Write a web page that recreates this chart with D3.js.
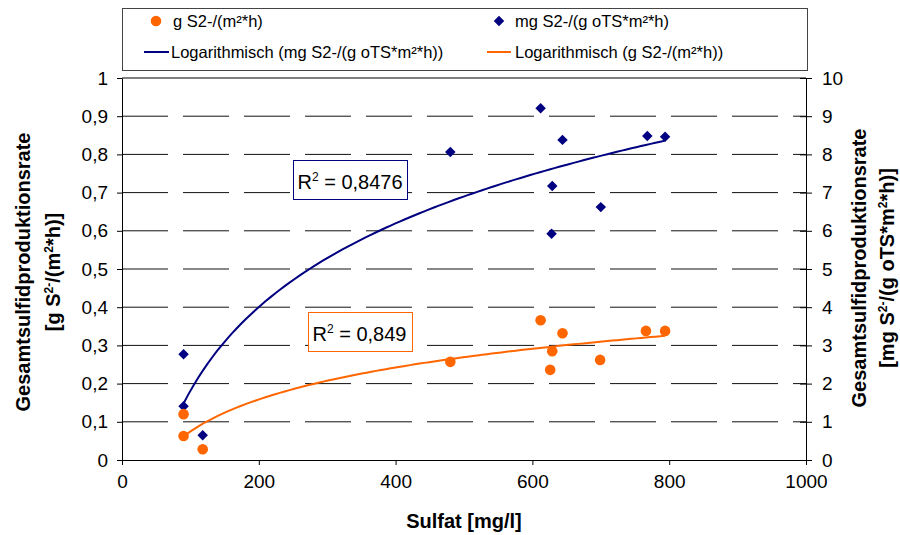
<!DOCTYPE html>
<html>
<head>
<meta charset="utf-8">
<script src="https://d3js.org/d3.v7.min.js"></script>
<style>
  body { margin: 0; background: #fff; }
  text { font-family: "Liberation Sans", Arial, sans-serif; }
</style>
</head>
<body>
<script>
// values
var sulfatG  = [90, 90, 118, 480, 612, 629, 626, 644, 699, 766, 794];
var rateG    = [0.120, 0.063, 0.028, 0.257, 0.366, 0.285, 0.236, 0.332, 0.262, 0.338, 0.338];
var sulfatMg = [90, 90, 118, 480, 612, 629, 628, 644, 700, 768, 794];
var rateMg   = [2.77, 1.41, 0.65, 8.06, 9.21, 7.17, 5.92, 8.38, 6.62, 8.48, 8.46];
var xTicks = [0, 200, 400, 600, 800, 1000];
var yLeftTicks = [0, 0.1, 0.2, 0.3, 0.4, 0.5, 0.6, 0.7, 0.8, 0.9, 1];
var yRightTicks = [0, 1, 2, 3, 4, 5, 6, 7, 8, 9, 10];
var r2Labels = ["0,8476", "0,849"];
var seriesNames = ["g S2-/(m²*h)", "mg S2-/(g oTS*m²*h)",
    "Logarithmisch (mg S2-/(g oTS*m²*h))", "Logarithmisch (g S2-/(m²*h))"];

var orange = "#ff6600", navy = "#000080";
var W = 900, H = 535;
var plot = {left: 122, right: 806, top: 78, bottom: 460};

var svg = d3.select("body").append("svg")
    .attr("width", W)
    .attr("height", H);

var x = d3.scaleLinear().domain([0, 1000]).range([plot.left, plot.right]);
var yL = d3.scaleLinear().domain([0, 1]).range([plot.bottom, plot.top]);
var yR = d3.scaleLinear().domain([0, 10]).range([plot.bottom, plot.top]);

var fmt = function(d) { return String(d).replace(".", ","); };
var diamond = d3.symbol().type(d3.symbolDiamond2).size(70);

// dashed gridlines
svg.append("g")
    .selectAll("line")
    .data(yLeftTicks.slice(1, -1))
    .enter().append("line")
    .attr("x1", plot.left).attr("x2", plot.right)
    .attr("y1", function(d) { return yL(d); })
    .attr("y2", function(d) { return yL(d); })
    .attr("stroke", "#111")
    .attr("stroke-dasharray", "46,15");

// top border of the plot area
svg.append("line")
    .attr("x1", plot.left).attr("x2", plot.right)
    .attr("y1", yL(1)).attr("y2", yL(1))
    .attr("stroke", "#000");

// axes
var axL = svg.append("g")
    .attr("transform", "translate(" + plot.left + ",0)")
    .call(d3.axisLeft(yL).tickValues(yLeftTicks).tickFormat(fmt).tickSizeInner(5).tickSizeOuter(0).tickPadding(9));
var axR = svg.append("g")
    .attr("transform", "translate(" + plot.right + ",0)")
    .call(d3.axisRight(yR).tickValues(yRightTicks).tickFormat(fmt).tickSizeInner(6).tickSizeOuter(0).tickPadding(10));
axR.selectAll(".tick line").attr("x1", -6);
var axB = svg.append("g")
    .attr("transform", "translate(0," + plot.bottom + ")")
    .call(d3.axisBottom(x).tickValues(xTicks).tickFormat(fmt).tickSizeInner(5).tickSizeOuter(0).tickPadding(10));

[axL, axR, axB].forEach(function(g) {
    g.selectAll("text")
        .style("font-size", "19px")
        .style("font-family", "'Liberation Sans', Arial, sans-serif")
        .attr("fill", "#000");
    g.selectAll("line, path").attr("stroke", "#000");
});

// logarithmic trend line, least squares on ln(x)
function logFit(xs, ys) {
    var n = xs.length, sx = 0, sy = 0, sxx = 0, sxy = 0;
    for (var i = 0; i < n; i++) {
        var l = Math.log(xs[i]);
        sx += l; sy += ys[i]; sxx += l * l; sxy += l * ys[i];
    }
    var a = (n * sxy - sx * sy) / (n * sxx - sx * sx);
    var b = (sy - a * sx) / n;
    return function(v) { return a * Math.log(v) + b; };
}

function trend(xs, ys, yScale, color) {
    var f = logFit(xs, ys);
    var lo = d3.min(xs), hi = d3.max(xs);
    var pts = d3.range(0, 101).map(function(i) { return lo + (hi - lo) * i / 100; });
    svg.append("path")
        .datum(pts)
        .attr("fill", "none")
        .attr("stroke", color)
        .attr("stroke-width", 2)
        .attr("d", d3.line()
            .x(function(d) { return x(d); })
            .y(function(d) { return yScale(f(d)); }));
}

trend(sulfatMg, rateMg, yR, navy);
trend(sulfatG, rateG, yL, orange);

// markers
svg.append("g").selectAll("path")
    .data(d3.zip(sulfatMg, rateMg))
    .enter().append("path")
    .attr("d", diamond)
    .attr("transform", function(d) { return "translate(" + x(d[0]) + "," + yR(d[1]) + ")"; })
    .attr("fill", navy);

svg.append("g").selectAll("circle")
    .data(d3.zip(sulfatG, rateG))
    .enter().append("circle")
    .attr("cx", function(d) { return x(d[0]); })
    .attr("cy", function(d) { return yL(d[1]); })
    .attr("r", 5.3)
    .attr("fill", orange);

// R² boxes
function r2Box(bx, by, bw, value, color) {
    svg.append("rect")
        .attr("x", bx).attr("y", by).attr("width", bw).attr("height", 39)
        .attr("fill", "#fff")
        .attr("stroke", color);
    var t = svg.append("text")
        .attr("x", bx + 4).attr("y", by + 28)
        .style("font-size", "20px");
    t.append("tspan").text("R");
    t.append("tspan").attr("dy", -8).style("font-size", "12px").text("2");
    t.append("tspan").attr("dy", 8).text(" = " + value);
}
r2Box(293.5, 160.5, 114, r2Labels[0], navy);
r2Box(308.5, 312.5, 104, r2Labels[1], orange);

// legend, two equal columns like the spreadsheet draws it
var lg = svg.append("g");
lg.append("rect")
    .attr("x", 122.5).attr("y", 8.5).attr("width", 685).attr("height", 62)
    .attr("fill", "#fff").attr("stroke", "#444");
lg.append("circle").attr("cx", 156).attr("cy", 21).attr("r", 5.3).attr("fill", orange);
lg.append("path")
    .attr("d", diamond)
    .attr("transform", "translate(499,21)")
    .attr("fill", navy);
lg.append("line").attr("x1", 144).attr("x2", 169).attr("y1", 52).attr("y2", 52)
    .attr("stroke", navy).attr("stroke-width", 2);
lg.append("line").attr("x1", 487).attr("x2", 511).attr("y1", 52).attr("y2", 52)
    .attr("stroke", orange).attr("stroke-width", 2);
var legendPos = [[173, 27], [515, 27], [171, 58], [515, 58]];
lg.selectAll("text.lg")
    .data(seriesNames)
    .enter().append("text")
    .attr("class", "lg")
    .attr("x", function(d, i) { return legendPos[i][0]; })
    .attr("y", function(d, i) { return legendPos[i][1]; })
    .style("font-size", "16.5px")
    .text(function(d) { return d; });

// axis titles
function sup(t, s) {
    t.append("tspan").attr("dy", -7).style("font-size", "12px").text(s);
}
function vTitle(cx, cy, gap, parts) {
    var g = svg.append("g")
        .attr("transform", "translate(" + cx + "," + cy + ")rotate(-90)");
    g.append("text")
        .attr("text-anchor", "middle")
        .style("font-size", "20px").style("font-weight", "bold")
        .text("Gesamtsulfidproduktionsrate");
    var t = g.append("text")
        .attr("y", gap)
        .attr("text-anchor", "middle")
        .style("font-size", "20px").style("font-weight", "bold");
    parts.forEach(function(p) {
        if (p[0] === "sup") sup(t, p[1]);
        else t.append("tspan").attr("dy", p[2] || 0).text(p[1]);
    });
}
vTitle(30, 272, 30, [["", "[g S"], ["sup", "2-"], ["", "/(m", 7], ["sup", "2"], ["", "*h)]", 7]]);
vTitle(866, 268, 28, [["", "[mg S"], ["sup", "2-"], ["", "/(g oTS*m", 7], ["sup", "2"], ["", "*h)]", 7]]);

svg.append("text")
    .attr("x", 464).attr("y", 528)
    .attr("text-anchor", "middle")
    .style("font-size", "20px").style("font-weight", "bold")
    .text("Sulfat [mg/l]");
</script>
</body>
</html>
